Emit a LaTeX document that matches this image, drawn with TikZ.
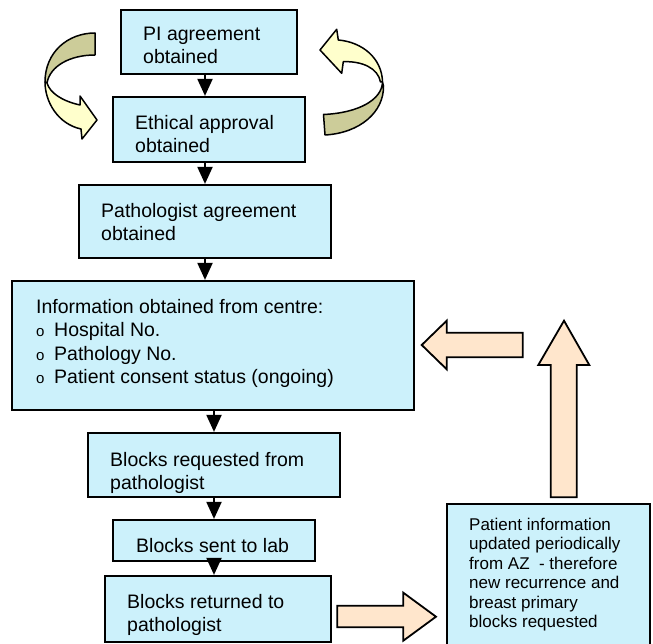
\documentclass[tikz,border=0pt]{standalone}
\usepackage{fontspec}
\setmainfont{Liberation Sans}
\usetikzlibrary{arrows.meta}
\definecolor{boxfill}{RGB}{204,241,251}
\definecolor{peach}{RGB}{255,230,204}
\definecolor{darkband}{RGB}{204,204,153}
\definecolor{lightband}{RGB}{255,255,204}
\tikzset{
  box/.style={draw=black, fill=boxfill, line width=2.2pt, rectangle, inner sep=0pt},
  txt/.style={anchor=north west, inner sep=0pt, align=left, font=\fontsize{19.5}{23.3}\selectfont},
  smalltxt/.style={anchor=north west, inner sep=0pt, align=left, font=\fontsize{17}{19.4}\selectfont},
  conn/.style={draw=black, line width=2pt, -{Triangle[width=15pt,length=17pt]}},
  blockarrow/.style={draw=black, fill=peach, line width=1.8pt, line join=miter},
  band/.style={draw=black, line width=1.5pt, line join=round}
}
\newcommand{\bul}{\makebox[18pt][l]{\fontsize{15}{15}\selectfont o}}
\begin{document}
\begin{tikzpicture}[x=1pt,y=-1pt]
\useasboundingbox (0,0) rectangle (653,644);
% boxes
\node[box, minimum width=176pt, minimum height=64pt] (pi) at (209,42) {};
\node[box, minimum width=192pt, minimum height=65pt] (eth) at (209,129.5) {};
\node[box, minimum width=252pt, minimum height=73pt] (path) at (205,221.5) {};
\node[box, minimum width=402pt, minimum height=129pt] (info) at (213,345.5) {};
\node[box, minimum width=252pt, minimum height=64pt] (req) at (214,465) {};
\node[box, minimum width=202pt, minimum height=41pt] (sent) at (214,540.5) {};
\node[box, minimum width=226pt, minimum height=66pt] (ret) at (218,609) {};
\node[box, minimum width=203pt, minimum height=150pt] (pat) at (548.5,579) {};
% texts
\node[txt] (pit) at (143,26.7) {PI agreement\\obtained};
\node[txt] (etht) at (135,115) {Ethical approval\\obtained};
\node[txt] (patht) at (101,203) {Pathologist agreement\\obtained};
\node[txt] (infot) at (36,299.3) {Information obtained from centre:\\\bul Hospital No.\\\bul Pathology No.\\\bul Patient consent status (ongoing)};
\node[txt] (reqt) at (110,451.7) {Blocks requested from\\pathologist};
\node[txt] (sentt) at (136,537.7) {Blocks sent to lab};
\node[txt] (rett) at (127,594.3) {Blocks returned to\\pathologist};
\node[smalltxt] (patt) at (469,518) {Patient information\\updated periodically\\from AZ\ \ - therefore\\new recurrence and\\breast primary\\blocks requested};
% connectors
\coordinate (colA) at (205,0);
\coordinate (colB) at (214,0);
\draw[conn] (pi.south -| colA) -- (eth.north -| colA);
\draw[conn] (eth.south -| colA) -- (path.north -| colA);
\draw[conn] (path.south -| colA) -- (info.north -| colA);
\draw[conn] (info.south -| colB) -- (req.north -| colB);
\draw[conn] (req.south -| colB) -- (sent.north -| colB);
\draw[conn] (sent.south -| colB) -- (ret.north -| colB);
% block arrows
\draw[blockarrow] (522.7,332.7) -- (446.7,332.7) -- (446.7,320.7) -- (421.7,345) -- (446.7,369.3) -- (446.7,357.3) -- (522.7,357.3) -- cycle;
\draw[blockarrow] (550.7,497.3) -- (550.7,365) -- (538.3,365) -- (564,320.7) -- (589.3,365) -- (576.7,365) -- (576.7,497.3) -- cycle;
\draw[blockarrow] (337.3,605.7) -- (403.3,605.7) -- (403.3,592.7) -- (436,616.7) -- (403.3,640.7) -- (403.3,627.3) -- (337.3,627.3) -- cycle;
% left curved arrow
\draw[band, fill=darkband] (95,33) .. controls (68,33) and (45,52) .. (45,82)
  -- (47,83) .. controls (50,66) and (70,55) .. (95,55) -- cycle;
\draw[band, fill=lightband] (45,82) .. controls (45,102) and (58,124) .. (81,129)
  -- (82,139) -- (97,120) -- (80,96) -- (80,105)
  .. controls (62,101) and (50,93) .. (47,83) -- cycle;
% right curved arrow
\draw[band, fill=lightband] (343.3,61.7) -- (341.7,73.3) -- (320,50) -- (336.7,29.3) -- (338.3,40)
  .. controls (362,42) and (382,58) .. (382.5,82)
  -- (380.5,82) .. controls (378,68) and (362,61) .. (343.3,61.7) -- cycle;
\draw[band, fill=darkband] (382.5,82) .. controls (382,100) and (358,113) .. (323.5,114.5)
  -- (325,135) .. controls (360,133) and (384,112) .. (383.5,86) -- cycle;
\end{tikzpicture}
\end{document}
